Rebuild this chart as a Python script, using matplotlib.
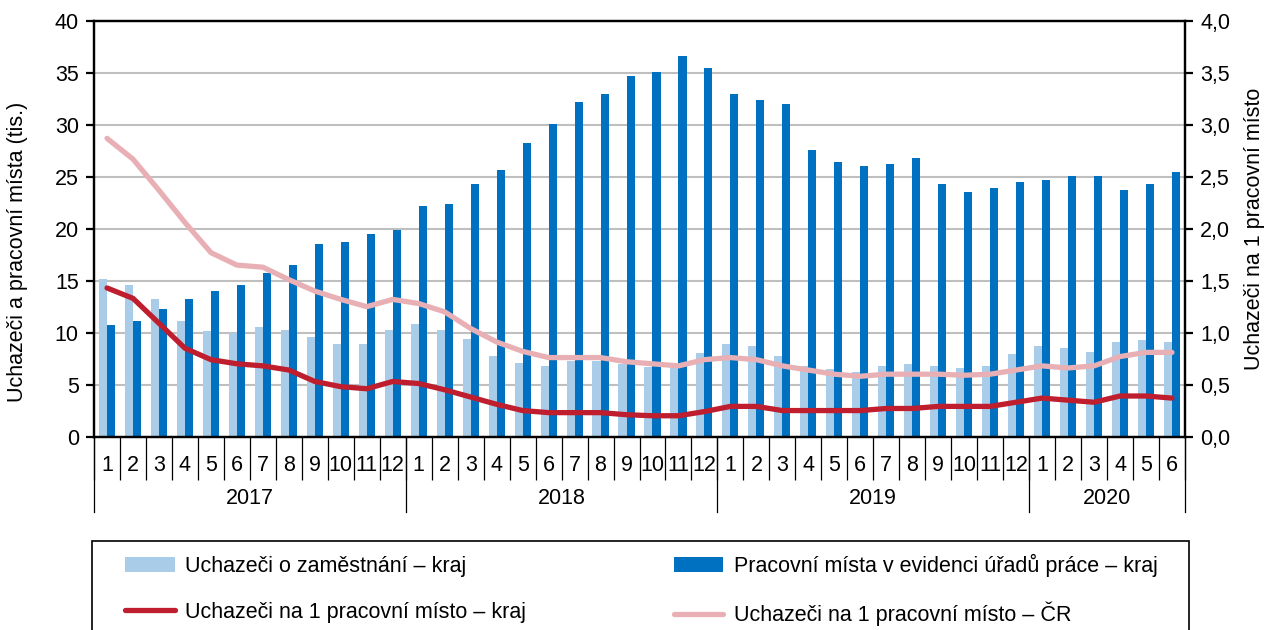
import matplotlib
matplotlib.use("Agg")
import matplotlib.pyplot as plt
import numpy as np
from matplotlib.patches import Rectangle

plt.rcParams["font.family"] = ["Liberation Sans", "DejaVu Sans"]
FS = 15.5
plt.rcParams["font.size"] = FS

YEARS = ["2017", "2018", "2019", "2020"]
MONTHS_PER_YEAR = [12, 12, 12, 6]

# uchazeci o zamestnani - kraj (tis.)
UCHAZECI = [
    15.15, 14.55, 13.2, 11.1, 10.15, 9.95, 10.5, 10.3, 9.55, 8.95, 8.95, 10.3,
    10.85, 10.3, 9.35, 7.75, 7.05, 6.8, 7.3, 7.3, 6.95, 6.7, 6.55, 8.0,
    8.95, 8.75, 7.75, 6.8, 6.5, 6.25, 6.8, 7.0, 6.8, 6.6, 6.8, 7.95,
    8.75, 8.55, 8.15, 9.1, 9.3, 9.1,
]
# pracovni mista v evidenci UP - kraj (tis.)
MISTA = [
    10.7, 11.1, 12.25, 13.2, 14.0, 14.55, 15.7, 16.5, 18.5, 18.75, 19.5, 19.9,
    22.2, 22.4, 24.3, 25.65, 28.3, 30.1, 32.2, 32.95, 34.7, 35.1, 36.6, 35.45,
    32.95, 32.4, 32.0, 27.6, 26.4, 26.0, 26.2, 26.8, 24.3, 23.5, 23.9, 24.5,
    24.7, 25.1, 25.1, 23.7, 24.3, 25.45,
]
# uchazeci na 1 pracovni misto - kraj
NA_MISTO_KRAJ = [
    1.43, 1.33, 1.09, 0.85, 0.74, 0.70, 0.68, 0.64, 0.53, 0.48, 0.46, 0.53,
    0.51, 0.45, 0.38, 0.31, 0.25, 0.23, 0.23, 0.23, 0.21, 0.20, 0.20, 0.24,
    0.29, 0.29, 0.25, 0.25, 0.25, 0.25, 0.27, 0.27, 0.29, 0.29, 0.29, 0.33,
    0.37, 0.35, 0.33, 0.39, 0.39, 0.37,
]
# uchazeci na 1 pracovni misto - CR
NA_MISTO_CR = [
    2.87, 2.67, 2.37, 2.06, 1.77, 1.65, 1.63, 1.51, 1.40, 1.32, 1.25, 1.32,
    1.28, 1.20, 1.04, 0.91, 0.82, 0.76, 0.76, 0.76, 0.72, 0.70, 0.68, 0.74,
    0.76, 0.74, 0.68, 0.64, 0.60, 0.58, 0.60, 0.60, 0.60, 0.59, 0.60, 0.64,
    0.68, 0.66, 0.68, 0.77, 0.81, 0.81,
]

C_LIGHT = "#A9CDE8"
C_DARK = "#0070C0"
C_RED = "#BE1E2D"
C_PINK = "#E8B0B4"
C_GRID = "#BFBFBF"

month_labels = [str(m) for n in MONTHS_PER_YEAR for m in range(1, n + 1)]
n = len(month_labels)
x = np.arange(n)
w = 0.31

fig = plt.figure(figsize=(12.71, 6.30), dpi=100)
ax = fig.add_axes([0.074, 0.3071, 0.8583, 0.6596])
ax2 = ax.twinx()

ax.bar(x - w / 2, UCHAZECI, w, color=C_LIGHT, label="Uchazeči o zaměstnání – kraj")
ax.bar(x + w / 2, MISTA, w, color=C_DARK, label="Pracovní místa v evidenci úřadů práce – kraj")
ax2.plot(x, NA_MISTO_KRAJ, color=C_RED, lw=3.8, solid_joinstyle="round",
         solid_capstyle="round", label="Uchazeči na 1 pracovní místo – kraj")
ax2.plot(x, NA_MISTO_CR, color=C_PINK, lw=3.8, solid_joinstyle="round",
         solid_capstyle="round", label="Uchazeči na 1 pracovní místo – ČR")

ax.set_xlim(-0.5, n - 0.5)
ax.set_ylim(0, 40)
ax2.set_ylim(0, 4)
ax.set_yticks(np.arange(0, 41, 5))
ax2.set_yticks(np.arange(0, 4.01, 0.5))
ax2.set_yticklabels([f"{v:.1f}".replace(".", ",") for v in np.arange(0, 4.01, 0.5)])
ax.set_axisbelow(True)
ax.yaxis.grid(True, color=C_GRID, lw=1.5)

for a in (ax, ax2):
    for s in a.spines.values():
        s.set_linewidth(1.6)
        s.set_color("black")
ax.tick_params(axis="y", length=6, width=1.6, pad=5, labelsize=FS)
ax2.tick_params(axis="y", length=6, width=1.6, pad=5, labelsize=FS)

ax.set_xticks(x)
ax.set_xticklabels(month_labels)
ax.tick_params(axis="x", which="major", length=0, pad=13, labelsize=FS)
ax.set_xticks(np.arange(-0.5, n), minor=True)
ax.tick_params(axis="x", which="minor", length=31, width=0.9, direction="out")

# year boundaries and labels
bounds = np.concatenate([[0], np.cumsum(MONTHS_PER_YEAR)]) - 0.5
trans = ax.get_xaxis_transform()
for b in bounds:
    ax.plot([b, b], [0, -0.182], transform=trans, color="black", lw=0.9, clip_on=False)
for i, yr in enumerate(YEARS):
    ax.text((bounds[i] + bounds[i + 1]) / 2, -0.150, yr, transform=trans,
            ha="center", va="center", fontsize=FS)

ax.set_ylabel("Uchazeči a pracovní místa (tis.)", fontsize=FS)
ax.yaxis.set_label_coords(-0.061, 0.445)
ax2.set_ylabel("Uchazeči na 1 pracovní místo", fontsize=FS, labelpad=10)

# legend box (cut off by the bottom edge as in the original)
fig.patches.append(Rectangle((0.0724, -0.1), 0.8631, 0.2413, transform=fig.transFigure,
                             fill=False, edgecolor="black", lw=1.2, clip_on=False))
h1, l1 = ax.get_legend_handles_labels()
h2, l2 = ax2.get_legend_handles_labels()
fig.legend([h1[0], h2[0], h1[1], h2[1]], [l1[0], l2[0], l1[1], l2[1]], ncol=2,
           frameon=False, fontsize=FS, borderpad=0, borderaxespad=0,
           handlelength=2.3, handletextpad=0.5, labelspacing=1.15,
           columnspacing=6.85, loc="upper left",
           bbox_to_anchor=(125 / 1271, 1 - 554 / 630))

fig.savefig("out.png", dpi=100)
